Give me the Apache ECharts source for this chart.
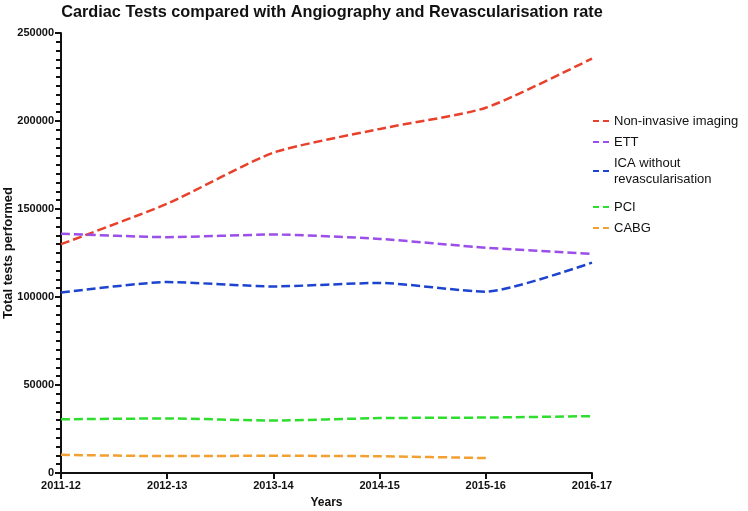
<!DOCTYPE html>
<html>
<head>
<meta charset="utf-8">
<script src="https://cdn.jsdelivr.net/npm/echarts@6/dist/echarts.min.js"></script>
<style>
  html, body { margin: 0; padding: 0; background: #fff; }
  #chart { width: 748px; height: 511px; }
</style>
</head>
<body>
<div id="chart"></div>
<script>
// years on the x axis
var years = ['2011-12', '2012-13', '2013-14', '2014-15', '2015-16', '2016-17']
// totals
var nonInvasive = [130000, 153000, 182000, 195500, 207500, 235500]
var ett = [136000, 134000, 135500, 133000, 128000, 124500]
var icaNoRevasc = [102500, 108500, 106000, 108000, 103000, 119500]
var pci = [30500, 31000, 29800, 31200, 31500, 32300]
var cabg = [10300, 9600, 9800, 9500, 8500, null]

var font = 'Liberation Sans, Arial, sans-serif'
var dashIcon = 'path://M0,0H6V2H0Z M10,0H16V2H10Z'
var myChart = echarts.init(document.getElementById('chart'))

function lineSeries(name, data, color) {
  return {
    name: name,
    type: 'line',
    data: data,
    smooth: 0.2,
    symbol: 'none',
    lineStyle: { color: color, width: 2.5, type: [9, 4] },
    itemStyle: { color: color },
  }
}

var legendText = { fontFamily: font, fontSize: 13, color: '#111', lineHeight: 16 }

var option = {
  animation: false,
  title: {
    text: 'Cardiac Tests compared with Angiography and Revascularisation rate',
    left: 327,
    textAlign: 'center',
    top: 0,
    textStyle: { fontFamily: font, fontSize: 16.3, fontWeight: 'bold', color: '#111' },
  },
  legend: [{
    orient: 'vertical',
    left: 588,
    top: 108,
    icon: dashIcon,
    itemWidth: 16,
    itemHeight: 2,
    itemGap: 5,
    textStyle: legendText,
    data: ['Non-invasive imaging', 'ETT', 'ICA without\nrevascularisation'],
  }, {
    orient: 'vertical',
    left: 588,
    top: 194,
    icon: dashIcon,
    itemWidth: 16,
    itemHeight: 2,
    itemGap: 5,
    textStyle: legendText,
    data: ['PCI', 'CABG'],
  }],
  grid: {
    left: 61,
    right: 156,
    top: 33,
    bottom: 38,
    outerBoundsMode: 'none',
    containLabel: false,
  },
  xAxis: {
    type: 'category',
    data: years,
    boundaryGap: false,
    name: 'Years',
    nameLocation: 'middle',
    nameGap: 24,
    nameMoveOverlap: false,
    nameTextStyle: { fontFamily: font, fontSize: 12, fontWeight: 'bold', color: '#111' },
    axisLine: { lineStyle: { color: '#111', width: 2 } },
    axisTick: { alignWithLabel: true, length: 6, lineStyle: { color: '#111', width: 2 } },
    axisLabel: { fontFamily: font, fontSize: 11, fontWeight: 'bold', color: '#111', margin: 7 },
    splitLine: { show: false },
  },
  yAxis: {
    type: 'value',
    min: 0,
    max: 250000,
    interval: 50000,
    name: 'Total tests performed',
    nameLocation: 'middle',
    nameGap: 46,
    nameMoveOverlap: false,
    nameTextStyle: { fontFamily: font, fontSize: 13, fontWeight: 'bold', color: '#111' },
    axisLine: { show: true, lineStyle: { color: '#111', width: 2 } },
    axisTick: { show: true, length: 6, lineStyle: { color: '#111', width: 2 } },
    minorTick: { show: true, splitNumber: 10, length: 5, lineStyle: { color: '#111', width: 2 } },
    axisLabel: {
      fontFamily: font, fontSize: 11, fontWeight: 'bold', color: '#111', margin: 7,
      formatter: function (v) { return String(v) },
    },
    splitLine: { show: false },
  },
  series: [
    lineSeries('Non-invasive imaging', nonInvasive, '#e8402a'),
    lineSeries('ETT', ett, '#9b4ee8'),
    lineSeries('ICA without\nrevascularisation', icaNoRevasc, '#1c44cf'),
    lineSeries('PCI', pci, '#2ede2e'),
    lineSeries('CABG', cabg, '#f3a033'),
  ],
}
myChart.setOption(option)
</script>
</body>
</html>
